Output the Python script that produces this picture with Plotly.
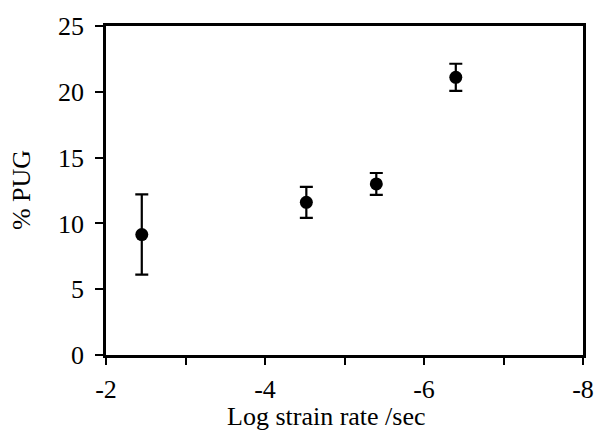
import plotly.graph_objects as go

log_strain_rate = [-2.45, -4.52, -5.40, -6.40]
pug_percent = [9.15, 11.6, 13.0, 21.1]
pug_error = [3.05, 1.18, 0.83, 1.03]

x_tick_vals = [-2, -3, -4, -5, -6, -7, -8]
x_tick_text = ["-2", "", "-4", "", "-6", "", "-8"]
y_tick_vals = [0, 5, 10, 15, 20, 25]

FONT = "Liberation Serif, Times New Roman, serif"
FS = 26

fig = go.Figure()
fig.add_trace(go.Scatter(
    x=log_strain_rate, y=pug_percent, mode="markers",
    marker=dict(color="black", size=13),
    error_y=dict(type="data", array=pug_error, visible=True,
                 color="black", thickness=2.2, width=6.5),
    showlegend=False,
))

fig.update_layout(
    width=606, height=433,
    margin=dict(l=106, r=14, t=23, b=78),
    paper_bgcolor="white", plot_bgcolor="white",
    font=dict(family=FONT, size=FS, color="black"),
    xaxis=dict(range=[-2, -8], tickvals=x_tick_vals, ticktext=x_tick_text,
               ticks="outside", ticklen=7, tickwidth=2, tickcolor="black",
               showline=True, linecolor="black", linewidth=2.5, mirror=True,
               showgrid=False, zeroline=False, ticklabelstandoff=2,
               tickfont=dict(family=FONT, size=FS, color="black")),
    yaxis=dict(range=[0, 25], tickvals=y_tick_vals,
               ticks="outside", ticklen=8, tickwidth=2, tickcolor="black",
               showline=True, linecolor="black", linewidth=2.5, mirror=True,
               showgrid=False, zeroline=False, ticklabelstandoff=6,
               tickfont=dict(family=FONT, size=FS, color="black")),
    annotations=[
        dict(text="Log strain rate /sec", xref="paper", yref="paper",
             x=0.463, y=-0.187, xanchor="center", yanchor="middle",
             showarrow=False, font=dict(family=FONT, size=FS, color="black")),
        dict(text="% PUG", xref="paper", yref="paper",
             x=-0.177, y=0.5, xanchor="center", yanchor="middle",
             textangle=-90, showarrow=False,
             font=dict(family=FONT, size=FS, color="black")),
    ],
)

fig.write_html("out.html")
